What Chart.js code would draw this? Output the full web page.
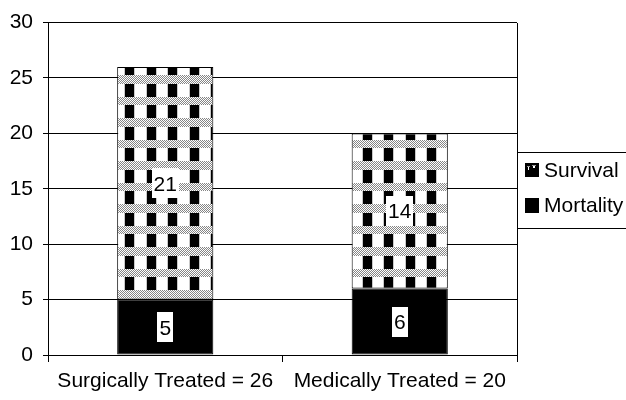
<!DOCTYPE html>
<html>
<head>
<meta charset="utf-8">
<script src="https://cdn.jsdelivr.net/npm/chart.js@4"></script>
<style>
  html, body { margin: 0; padding: 0; background: #fff; }
  canvas { display: block; }
</style>
</head>
<body>
<canvas id="chart" width="626" height="400"></canvas>
<script>
// Outcome counts by treatment group
const categories = ['Surgically Treated = 26', 'Medically Treated = 20'];
const mortality = [5, 6];
const survival = [21, 14];
const seriesNames = ['Mortality', 'Survival'];
const yMin = 0;
const yMax = 30;
const yStep = 5;

const FONT = '"Liberation Sans", Arial, Helvetica, sans-serif';

// Rows of black/white blocks separated by fine grey dotted bands (survival fill)
function buildBlockPattern(ctx) {
  const tw = 108, th = 43;
  const tile = document.createElement('canvas');
  tile.width = tw; tile.height = th;
  const g = tile.getContext('2d');
  g.fillStyle = '#fff';
  g.fillRect(0, 0, tw, th);
  for (let j = 0; j < 2; j++) {
    const y0 = Math.round(j * 21.5);
    const y1 = Math.round(j * 21.5 + 13);
    const y2 = Math.round((j + 1) * 21.5);
    for (let y = y1; y < y2; y++) {
      for (let x = 0; x < tw; x++) {
        g.fillStyle = ((x + y) & 1) ? '#ffffff' : '#858585';
        g.fillRect(x, y, 1, 1);
      }
    }
    for (let i = 0; i < 5; i++) {
      const x0 = Math.round(i * 21.6);
      g.fillStyle = '#000';
      g.fillRect(x0, y0, 9, y1 - y0);
      g.fillStyle = '#c8c8c8';
      g.fillRect(x0 + 9, y0, 1, y1 - y0);
      g.fillRect(x0 - 1 < 0 ? tw - 1 : x0 - 1, y0, 1, y1 - y0);
    }
  }
  const p = ctx.createPattern(tile, 'repeat');
  p.setTransform(new DOMMatrix([1, 0, 0, 1, 17, 62]));
  return p;
}

const canvas = document.getElementById('chart');
const ctx0 = canvas.getContext('2d');
const survivalFill = buildBlockPattern(ctx0);

// Value labels in white boxes at the middle of each segment
const valueLabels = {
  id: 'valueLabels',
  afterDatasetsDraw(chart) {
    const ctx = chart.ctx;
    ctx.save();
    ctx.font = '21px ' + FONT;
    ctx.textAlign = 'center';
    ctx.textBaseline = 'alphabetic';
    chart.data.datasets.forEach((ds, di) => {
      const meta = chart.getDatasetMeta(di);
      meta.data.forEach((bar, i) => {
        const txt = String(ds.data[i]);
        const cx = bar.x;
        const cy = (bar.y + bar.base) / 2;
        const w = Math.round(ctx.measureText(txt).width + 4);
        const h = 30;
        ctx.fillStyle = '#fff';
        ctx.fillRect(Math.round(cx - w / 2), Math.round(cy - h / 2), w, h);
        ctx.fillStyle = '#000';
        ctx.fillText(txt, cx, cy + 7.5);
      });
    });
    ctx.restore();
  }
};

// Right frame line of the plot and the boxed legend beside it
const frameAndLegend = {
  id: 'frameAndLegend',
  afterDraw(chart) {
    const ctx = chart.ctx;
    const a = chart.chartArea;
    ctx.save();
    ctx.strokeStyle = '#000';
    ctx.lineWidth = 1;
    const rx = Math.round(a.right) + 0.5;
    ctx.beginPath();
    ctx.moveTo(rx, Math.round(a.top));
    ctx.lineTo(rx, Math.round(a.bottom) + 1);
    ctx.stroke();

    const lx = rx, ly = 152.5, lw = 130, lh = 76;
    ctx.fillStyle = '#fff';
    ctx.fillRect(lx, ly, lw, lh);
    ctx.strokeRect(lx, ly, lw, lh);

    ctx.font = '21px ' + FONT;
    ctx.textAlign = 'left';
    ctx.textBaseline = 'alphabetic';
    const ds = chart.data.datasets;
    const order = [1, 0];
    order.forEach((di, k) => {
      const sy = 163 + k * 35;
      const sx = 525;
      if (di === 1) {
        ctx.fillStyle = '#000';
        ctx.fillRect(sx, sy, 14, 14);
        ctx.fillStyle = '#9a9a9a';
        ctx.fillRect(sx + 2, sy + 3, 3, 1);
        ctx.fillRect(sx + 7, sy + 2, 4, 1);
        ctx.fillStyle = '#fff';
        ctx.fillRect(sx + 3, sy + 4, 1, 3);
        ctx.fillRect(sx + 8, sy + 3, 2, 2);
      } else {
        ctx.fillStyle = '#000';
        ctx.fillRect(sx, sy, 14, 15);
      }
      ctx.fillStyle = '#000';
      ctx.fillText(ds[di].label, 544, sy + 14);
    });
    ctx.restore();
  }
};

new Chart(canvas, {
  type: 'bar',
  data: {
    labels: categories,
    datasets: [
      {
        label: seriesNames[0],
        data: mortality,
        backgroundColor: '#000',
        borderColor: '#000',
        borderWidth: 1,
        borderSkipped: false,
        barPercentage: 0.41,
        categoryPercentage: 1.0
      },
      {
        label: seriesNames[1],
        data: survival,
        backgroundColor: survivalFill,
        borderColor: '#000',
        borderWidth: 1,
        borderSkipped: false,
        barPercentage: 0.41,
        categoryPercentage: 1.0
      }
    ]
  },
  options: {
    responsive: false,
    animation: false,
    devicePixelRatio: 1,
    layout: { padding: { left: 0, right: 109, top: 16, bottom: 0 } },
    plugins: {
      legend: { display: false },
      tooltip: { enabled: false }
    },
    scales: {
      x: {
        stacked: true,
        offset: true,
        grid: {
          display: true,
          drawOnChartArea: false,
          drawTicks: true,
          tickLength: 7,
          color: '#000',
          lineWidth: 1,
          offset: true
        },
        border: { display: true, color: '#000', width: 1 },
        ticks: {
          color: '#000',
          font: { family: FONT, size: 21 },
          padding: 7,
          maxRotation: 0,
          autoSkip: false
        },
        afterFit(scale) { scale.height = 45; }
      },
      y: {
        stacked: true,
        min: yMin,
        max: yMax,
        ticks: {
          stepSize: yStep,
          color: '#000',
          font: { family: FONT, size: 21 },
          padding: 10
        },
        grid: { color: '#000', lineWidth: 1, tickLength: 5 },
        border: { display: true, color: '#000', width: 1 },
        afterFit(scale) { scale.width = 48; }
      }
    }
  },
  plugins: [valueLabels, frameAndLegend]
});
</script>
</body>
</html>
